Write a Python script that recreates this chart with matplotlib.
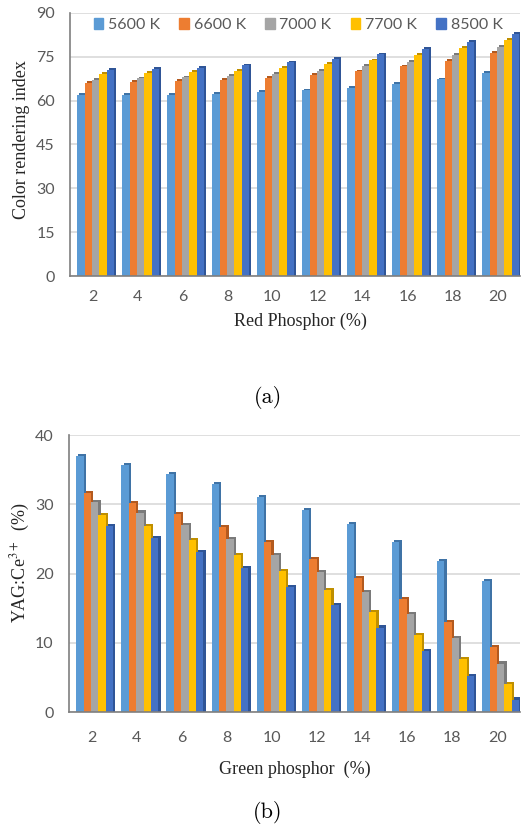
import matplotlib
matplotlib.use("Agg")
import matplotlib.pyplot as plt
import numpy as np
from matplotlib.patches import Patch

# Data
categories = ["2", "4", "6", "8", "10", "12", "14", "16", "18", "20"]
series_names = ["5600 K", "6600 K", "7000 K", "7700 K", "8500 K"]

cri_5600 = [61.9, 61.9, 62.1, 62.3, 62.9, 63.5, 64.4, 65.8, 67.3, 69.5]
cri_6600 = [66.1, 66.4, 66.8, 67.1, 67.8, 68.7, 70.0, 71.7, 73.7, 76.4]
cri_7000 = [67.2, 67.6, 68.0, 68.5, 69.2, 70.2, 71.8, 73.4, 75.6, 78.3]
cri_7700 = [69.1, 69.5, 69.8, 70.3, 71.3, 72.5, 73.8, 75.7, 78.0, 80.8]
cri_8500 = [70.6, 70.9, 71.3, 72.1, 73.1, 74.4, 75.8, 77.8, 80.0, 82.8]

yag_5600 = [36.9, 35.7, 34.4, 32.9, 31.1, 29.2, 27.1, 24.5, 21.8, 18.9]
yag_6600 = [31.6, 30.2, 28.6, 26.7, 24.5, 22.1, 19.3, 16.3, 13.0, 9.4]
yag_7000 = [30.3, 28.8, 27.0, 25.0, 22.7, 20.2, 17.3, 14.1, 10.7, 7.0]
yag_7700 = [28.4, 26.8, 24.8, 22.7, 20.3, 17.6, 14.5, 11.1, 7.6, 4.0]
yag_8500 = [26.8, 25.1, 23.1, 20.8, 18.1, 15.4, 12.2, 8.8, 5.2, 1.8]

front_colors = ["#5B9BD5", "#ED7D31", "#A5A5A5", "#FFC000", "#4472C4"]
side_colors = ["#3F73A6", "#B35A1F", "#7A7A7A", "#BF8F00", "#2F5597"]

plt.rcParams["mathtext.fontset"] = "stix"
TICK_FONT = "Lato"
LABEL_FONT = "Liberation Serif"
GREY = "#595959"

fig = plt.figure(figsize=(5.21, 8.30), dpi=100)
W, H = 521, 830


def px_axes(left, top, right, bottom):
    return fig.add_axes([left / W, 1 - bottom / H, (right - left) / W, (bottom - top) / H])


def draw_bars(ax, data, cap):
    x = np.arange(len(categories))
    slot = 0.164
    dx = 0.05
    start = x - 2.5 * slot + 0.07
    for i, vals in enumerate(data):
        vals = np.array(vals)
        xi = start + i * slot
        # darker offset bar gives the side/cap of the 3d column
        ax.bar(xi + dx, vals + cap, width=slot, align="edge",
               color=side_colors[i], linewidth=0, zorder=2 + i * 0.1)
        ax.bar(xi, vals, width=slot, align="edge",
               color=front_colors[i], linewidth=0, zorder=2 + i * 0.1 + 0.05)


def style_axes(ax, ymax, step, xpad):
    ax.set_xlim(-0.5, 9.5)
    ax.set_ylim(0, ymax)
    ax.set_yticks(np.arange(0, ymax + 1, step))
    ax.set_xticks(np.arange(len(categories)))
    ax.set_xticklabels(categories)
    ax.yaxis.grid(True, color="#D9D9D9", linewidth=1.2, zorder=0)
    ax.set_axisbelow(True)
    for s in ["top", "right"]:
        ax.spines[s].set_visible(False)
    ax.spines["left"].set_color("#7F7F7F")
    ax.spines["bottom"].set_color("#7F7F7F")
    ax.spines["left"].set_linewidth(1.2)
    ax.spines["bottom"].set_linewidth(1.2)
    ax.tick_params(axis="both", length=0, labelsize=11.5, labelcolor=GREY)
    ax.tick_params(axis="x", pad=xpad)
    ax.tick_params(axis="y", pad=11)
    for lab in ax.get_xticklabels() + ax.get_yticklabels():
        lab.set_fontfamily(TICK_FONT)


# (a) colour rendering index
ax1 = px_axes(70, 13, 520, 276)
draw_bars(ax1, [cri_5600, cri_6600, cri_7000, cri_7700, cri_8500], 0.6)
style_axes(ax1, 90, 15, 10)
ax1.set_ylabel("Color rendering index", fontfamily=LABEL_FONT, fontsize=13, color="#262626")
ax1.yaxis.set_label_coords(-0.089, 0.517)
ax1.set_xlabel("Red Phosphor (%)", fontfamily=LABEL_FONT, fontsize=13, color="#262626")
ax1.xaxis.set_label_coords(0.511, -0.141)
handles = [Patch(color=c) for c in front_colors]
leg = ax1.legend(handles, series_names, loc="center", bbox_to_anchor=(0.507, 0.954),
                 ncol=5, frameon=False, handlelength=0.6, handleheight=0.6,
                 handletextpad=0.3, columnspacing=1.2,
                 prop={"family": TICK_FONT, "size": 11.5})
for t in leg.get_texts():
    t.set_color(GREY)

# (b) YAG:Ce share
ax2 = px_axes(69, 435, 520, 712)
draw_bars(ax2, [yag_5600, yag_6600, yag_7000, yag_7700, yag_8500], 0.3)
style_axes(ax2, 40, 10, 13.5)
ax2.set_ylabel("YAG:Ce$^{3+}$  (%)", fontfamily=LABEL_FONT, fontsize=13, color="#262626")
ax2.yaxis.set_label_coords(-0.082, 0.538)
ax2.set_xlabel("Green phosphor  (%)", fontfamily=LABEL_FONT, fontsize=13, color="#262626")
ax2.xaxis.set_label_coords(0.501, -0.177)

fig.text(268 / W, 1 - 397 / H, "(a)", fontfamily="cmr10", fontsize=16, ha="center", va="center")
fig.text(268 / W, 1 - 812 / H, "(b)", fontfamily="cmr10", fontsize=16, ha="center", va="center")

fig.savefig("out.png", dpi=100)
